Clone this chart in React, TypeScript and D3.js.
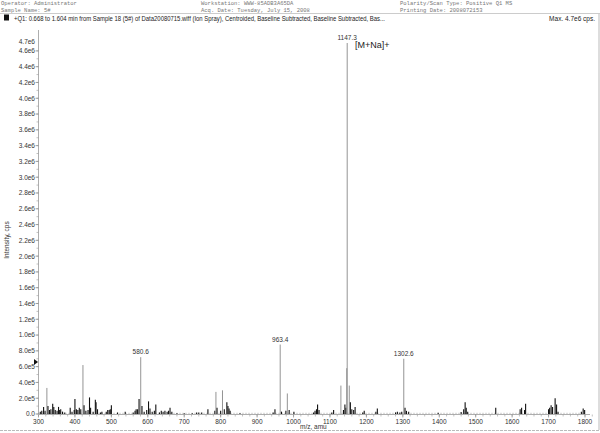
import React from "react";
import * as d3 from "d3";

const peakMz = [305,309,314,318,323,326,330,334,339,342,346,351,355,358,361,366,372,
387,392,398,400,404,408,412,416,422,425,430,436,440,443,450,456,458,462,470,474,486,490,494,497,500,517,538,560,565,568,572,576,580.6,584,590,597,602,606,612,618,622,632,637,642,647,653,657,661,666,680,700,722,734,740,748,765,784,787,790,800,805,810,817,820,823,826,853,944,949,963.4,967,979,983,988,1001,1055,1059,1063,1066,1070,1105,1110,1130,1137,1141,1144,1146,1147.3,1153,1156,1160,1165,1169,1190,1194,1226,1230,1280,1285,1292,1297,1302.6,1306,1310,1316,1397,1460,1467,1471,1474,1478,1555,1622,1626,1634,1637,1700,1703,1707,1711,1718,1722,1726,1790,1795,1799];
// intensity in units of 1e5 cps
const peakIntensity = [0.3,0.4,0.9,0.4,3.3,1.0,0.5,0.6,1.3,0.9,0.5,0.4,0.9,0.5,0.6,0.3,0.2,
0.8,0.3,0.5,1.9,0.6,0.5,0.8,0.6,6.2,1.1,0.4,0.5,2.1,0.8,0.3,1.8,1.5,0.6,0.2,0.3,0.3,0.5,0.5,0.6,1.1,0.2,0.3,0.2,0.4,0.6,0.6,1.9,7.2,1.0,0.3,0.5,1.6,0.7,0.3,0.4,1.2,0.2,0.4,0.3,0.4,0.3,0.4,0.8,0.3,0.1,0.1,0.1,0.2,0.2,0.2,0.6,0.4,2.8,0.8,0.4,3.0,0.6,1.5,1.0,0.7,0.4,0.1,0.2,0.6,8.8,0.3,0.4,2.6,0.5,0.3,0.2,0.4,0.6,1.2,0.5,0.2,0.5,3.6,0.5,1.2,0.8,5.8,47,3.6,1.5,0.6,0.5,0.9,0.2,0.4,0.3,0.7,0.2,0.3,0.2,0.3,7.0,0.8,0.4,0.3,0.15,0.25,0.6,1.5,0.8,0.3,0.8,0.6,0.8,0.5,1.3,0.6,0.8,1.1,0.9,2.0,1.2,0.3,0.3,0.7,0.5];

const labelMz = [580.6, 963.4, 1147.3, 1302.6];
const labelText = ["580.6", "963.4", "1147.3", "1302.6"];

const xTicks = [300,400,500,600,700,800,900,1000,1100,1200,1300,1400,1500,1600,1700,1800];
const yTicks = [0,2e5,4e5,6e5,8e5,1e6,1.2e6,1.4e6,1.6e6,1.8e6,2e6,2.2e6,2.4e6,2.6e6,2.8e6,3e6,3.2e6,3.4e6,3.6e6,3.8e6,4e6,4.2e6,4.4e6,4.6e6];
const yMax = 4.7e6;

const headerLeft = ["Operator: Administrator", "Sample Name: 5#"];
const headerMid = ["Workstation: WWW-85ADB3A65DA", "Acq. Date: Tuesday, July 15, 2008"];
const headerRight = ["Polarity/Scan Type: Positive Q1 MS", "Printing Date: 2008072153"];
const titleText = "+Q1: 0.668 to 1.604 min from Sample 18 (5#) of Data20080715.wiff (Ion Spray), Centroided, Baseline Subtracted, Baseline Subtracted, Bas...";

function fmtY(v: number) {
  if (v === 0) return "0.0";
  const e = Math.floor(Math.log10(v) + 1e-9);
  return (v / Math.pow(10, e)).toFixed(1) + "e" + e;
}

export default function App() {
  const W = 600, H = 433;
  const x = d3.scaleLinear().domain([300, 1800]).range([38.5, 585]);
  const y = d3.scaleLinear().domain([0, yMax]).range([414, 43]);
  const minorX = d3.range(300, 1821, 20);
  const minorY = d3.range(0, 4.7e6, 1e5);
  const font = "Liberation Sans, Arial, sans-serif";
  const mono = "Liberation Mono, Courier New, monospace";
  return (
    <svg width={W} height={H} style={{ position: "absolute", left: 0, top: 0, background: "#fff" }}>
      <rect x={0} y={0} width={W} height={H} fill="#fff" />
      {/* header */}
      {headerLeft.map((t, i) => (
        <text key={"hl" + i} x={1} y={5 + i * 6.5} fontSize={5.5} fontFamily={mono} fill="#777">{t}</text>
      ))}
      {headerMid.map((t, i) => (
        <text key={"hm" + i} x={201} y={5 + i * 6.5} fontSize={5.5} fontFamily={mono} fill="#777">{t}</text>
      ))}
      {headerRight.map((t, i) => (
        <text key={"hr" + i} x={400} y={5 + i * 6.5} fontSize={5.5} fontFamily={mono} fill="#777">{t}</text>
      ))}
      <line x1={0} x2={600} y1={13.5} y2={13.5} stroke="#aaa" strokeWidth={0.6} />
      <rect x={4} y={14.5} width={5} height={6} fill="#111" />
      <text x={14} y={21} fontSize={6.5} fontFamily={font} fill="#222" textLength={371} lengthAdjust="spacingAndGlyphs">{titleText}</text>
      <text x={595} y={21} fontSize={6.5} fontFamily={font} fill="#222" textAnchor="end">Max. 4.7e6 cps.</text>
      <line x1={599} x2={599} y1={14} y2={430} stroke="#aaa" strokeWidth={0.8} />
      <line x1={0} x2={600} y1={430.5} y2={430.5} stroke="#aaa" strokeWidth={0.8} strokeDasharray="3,1" />
      {/* y axis */}
      <line x1={38.5} x2={38.5} y1={30} y2={414} stroke="#999" strokeWidth={0.8} />
      {minorY.map((v, i) => (
        <line key={"my" + i} x1={36.5} x2={38.5} y1={y(v)} y2={y(v)} stroke="#999" strokeWidth={0.6} />
      ))}
      {yTicks.map((v, i) => (
        <g key={"yt" + i}>
          <line x1={35.5} x2={38.5} y1={y(v)} y2={y(v)} stroke="#888" strokeWidth={0.7} />
          <text x={35} y={y(v) + 2.4} fontSize={6.5} fontFamily={font} fill="#333" textAnchor="end">{fmtY(v)}</text>
        </g>
      ))}
      <text x={35} y={y(yMax) + 0.5} fontSize={6.5} fontFamily={font} fill="#333" textAnchor="end">4.7e6</text>
      <text transform={`translate(9,240) rotate(-90)`} fontSize={6.5} fontFamily={font} fill="#333" textAnchor="middle">Intensity, cps</text>
      <path d={`M34,${y(6.6e5) - 3}L38,${y(6.6e5)}L34,${y(6.6e5) + 3}Z`} fill="#111" />
      {/* x axis */}
      <line x1={38.5} x2={590} y1={414.5} y2={414.5} stroke="#999" strokeWidth={0.8} />
      {minorX.map((v, i) => (
        <line key={"mx" + i} x1={x(v)} x2={x(v)} y1={414.5} y2={416.5} stroke="#999" strokeWidth={0.6} />
      ))}
      {xTicks.map((v, i) => (
        <g key={"xt" + i}>
          <line x1={x(v)} x2={x(v)} y1={414.5} y2={417.5} stroke="#888" strokeWidth={0.7} />
          <text x={x(v)} y={423.5} fontSize={6.5} fontFamily={font} fill="#333" textAnchor="middle">{v}</text>
        </g>
      ))}
      <text x={300} y={429} fontSize={6.5} fontFamily={font} fill="#333">m/z, amu</text>
      {/* baseline noise */}
      <line x1={38.5} x2={585} y1={413.3} y2={413.3} stroke="#777" strokeWidth={0.6} strokeDasharray="1,2" />
      {/* peaks */}
      {peakMz.map((m, i) => {
        const v = peakIntensity[i] * 1e5;
        return (
          <line key={"p" + i} x1={x(m)} x2={x(m)} y1={414} y2={y(v)}
            stroke={v > 2.5e5 ? "#888" : "#111"} strokeWidth={v > 2.5e5 ? 0.9 : 1.1} />
        );
      })}
      {/* peak labels */}
      {labelMz.map((m, i) => {
        const idx = peakMz.indexOf(m);
        const v = peakIntensity[idx] * 1e5;
        return (
          <text key={"l" + i} x={x(m)} y={y(v) - 3} fontSize={6.5} fontFamily={font} fill="#333" textAnchor="middle">{labelText[i]}</text>
        );
      })}
      <text x={355} y={48} fontSize={9} fontFamily={font} fill="#222">[M+Na]+</text>
    </svg>
  );
}
